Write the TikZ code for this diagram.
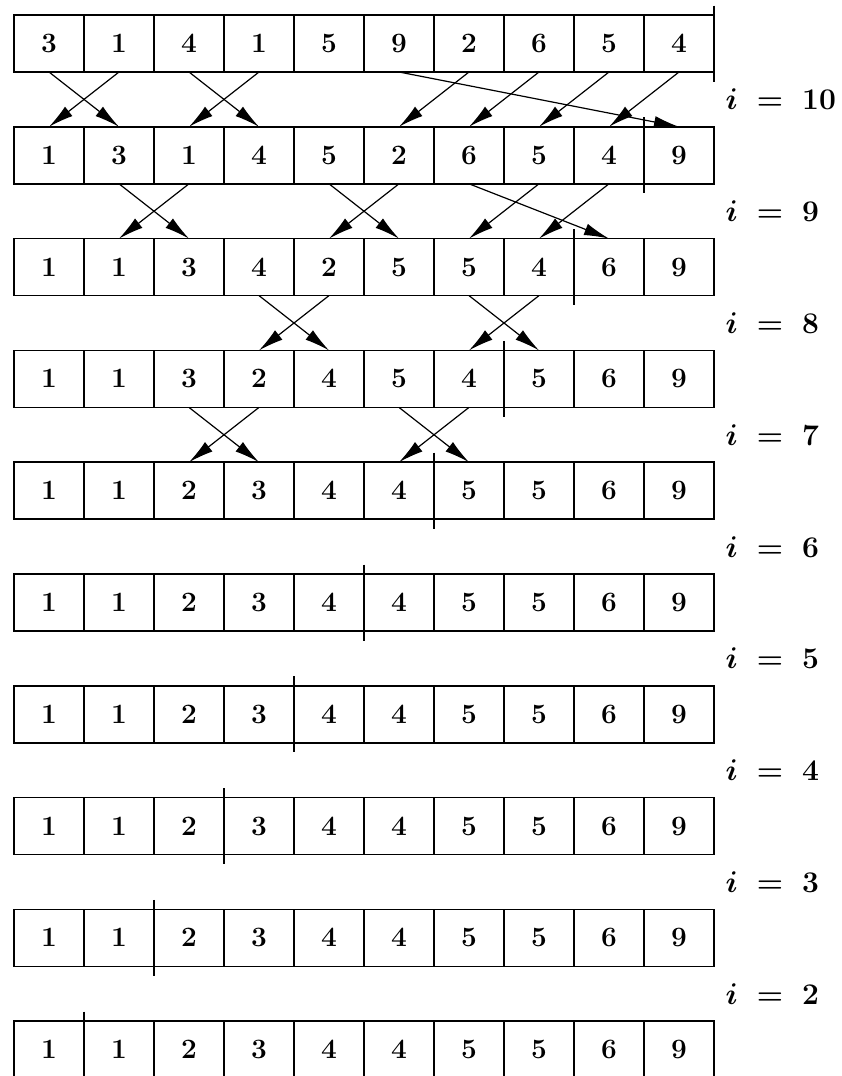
\RequirePackage{fix-cm}
\documentclass[tikz,border=0pt]{standalone}
\usetikzlibrary{arrows.meta}

\tikzset{
    cell/.style={draw,line width=1.6pt,minimum width=70pt,minimum height=57pt,
        inner sep=0pt,outer sep=0pt,font=\fontsize{28}{32}\selectfont\boldmath},
    swaparrow/.style={line width=1.2pt,-{Latex[length=25pt,width=12pt]}},
    divider/.style={line width=1.6pt},
    passlabel/.style={anchor=west,font=\fontsize{30}{34}\selectfont\boldmath}
}

\begin{document}
\begin{tikzpicture}[x=1pt,y=-1pt]

    \useasboundingbox (0,0) rectangle (841,1076);

    \foreach \row [count=\r] in {{3,1,4,1,5,9,2,6,5,4},{1,3,1,4,5,2,6,5,4,9},
        {1,1,3,4,2,5,5,4,6,9},{1,1,3,2,4,5,4,5,6,9},{1,1,2,3,4,4,5,5,6,9},
        {1,1,2,3,4,4,5,5,6,9},{1,1,2,3,4,4,5,5,6,9},{1,1,2,3,4,4,5,5,6,9},
        {1,1,2,3,4,4,5,5,6,9},{1,1,2,3,4,4,5,5,6,9}}
        \foreach \v [count=\c] in \row
            \node[cell] (r\r-\c) at ({70*\c-21},{111.8*\r-68.3}) {$\v$};

    \foreach \r/\s/\t in {1/1/2,1/2/1,1/3/4,1/4/3,1/6/10,1/7/6,1/8/7,1/9/8,1/10/9,
        2/2/3,2/3/2,2/5/6,2/6/5,2/7/9,2/8/7,2/9/8,
        3/4/5,3/5/4,3/7/8,3/8/7,
        4/3/4,4/4/3,4/6/7,4/7/6} {
        \pgfmathtruncatemacro\n{\r+1}
        \draw[swaparrow] (r\r-\s.south) -- (r\n-\t.north);
    }

    \foreach \r/\c in {1/10,2/9,3/8,4/7,5/6,6/5,7/4,8/3,9/2,10/1}
        \draw[divider] ([yshift=9.5pt]r\r-\c.north east)
            -- ([yshift=-9.5pt]r\r-\c.south east);

    \foreach \r/\i in {1/10,2/9,3/8,4/7,5/6,6/5,7/4,8/3,9/2}
        \node[passlabel] (lab\i) at (722,{111.8*\r-12.4}) {$i \;=\; \i$};

\end{tikzpicture}
\end{document}
